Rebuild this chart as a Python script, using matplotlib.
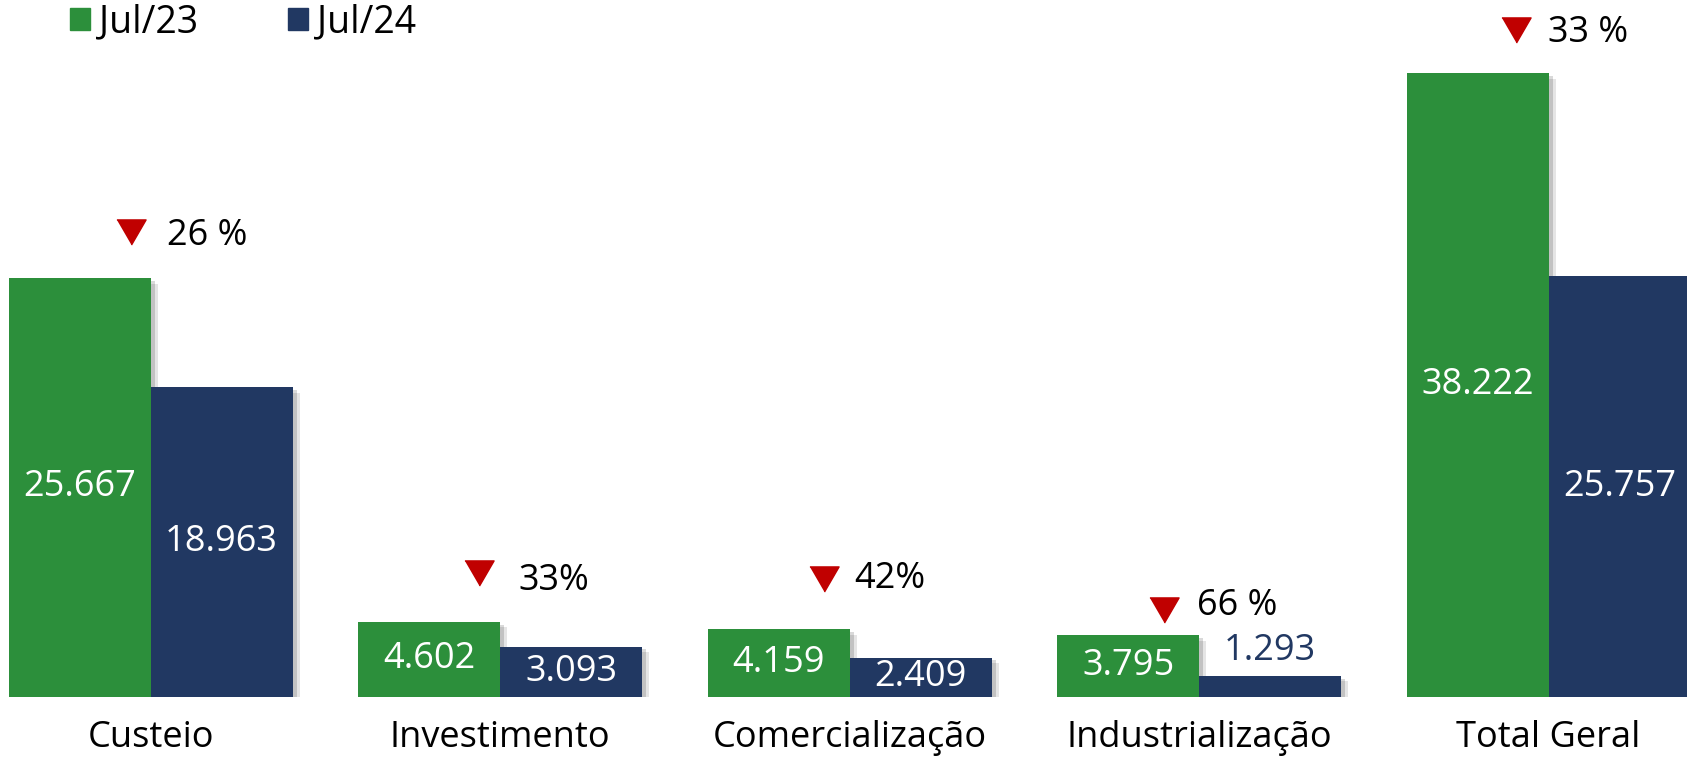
import matplotlib
matplotlib.use("Agg")
import matplotlib.pyplot as plt
import matplotlib.patheffects as pe
from matplotlib.patches import Patch
from matplotlib.transforms import offset_copy, blended_transform_factory
import numpy as np

# ---- Data -----------------------------------------------------------------
categories = ["Custeio", "Investimento", "Comercialização", "Industrialização", "Total Geral"]
jul23 = [25667, 4602, 4159, 3795, 38222]
jul24 = [18963, 3093, 2409, 1293, 25757]
value_labels_23 = ["25.667", "4.602", "4.159", "3.795", "38.222"]
value_labels_24 = ["18.963", "3.093", "2.409", "1.293", "25.757"]
drop_labels = ["26 %", "33%", "42%", "66 %", "33 %"]

# annotation placement (pixels, relative to group centre / green bar top)
tri_dx = [-20, -21, -26, -35, -33]
tri_dy = [46, 49, 50, 25, 43]
txt_dx = [16, 18, 5, -2, -1]
txt_dy = [46, 45, 54, 33, 44]

GREEN = "#2C8F3B"
NAVY = "#213862"
RED = "#C00000"
FONT = "Open Sans"

W, H, DPI = 1687, 759, 100
BASE_PX = 62          # baseline distance from bottom of figure
UNITS_PER_PX = 61.25  # value units per pixel

fig = plt.figure(figsize=(W / DPI, H / DPI), dpi=DPI)
ax = fig.add_axes([0, BASE_PX / H, 1, 1 - BASE_PX / H])
ax.set_axis_off()

x = np.arange(len(categories))
w = 142 / 349.5
shadow = [pe.SimplePatchShadow(offset=(5, -4), shadow_rgbFace="#000000", alpha=0.10),
          pe.SimplePatchShadow(offset=(3, -2), shadow_rgbFace="#000000", alpha=0.15),
          pe.Normal()]

b23 = ax.bar(x - w / 2, jul23, w, color=GREEN, zorder=2)
b24 = ax.bar(x + w / 2, jul24, w, color=NAVY, zorder=3)
for r in list(b23) + list(b24):
    r.set_path_effects(shadow)

ax.set_xlim((0 - 150.6) / 349.5, (W - 150.6) / 349.5)
ax.set_ylim(0, (H - BASE_PX) * UNITS_PER_PX)

# value labels
for i in range(len(categories)):
    ax.text(x[i] - w / 2, jul23[i] / 2, value_labels_23[i], ha="center", va="center",
            color="white", fontsize=26, family=FONT, zorder=5)
    if jul24[i] < 1500:
        ax.text(x[i] + w / 2, jul24[i] + 25 * UNITS_PER_PX, value_labels_24[i], ha="center",
                va="center", color=NAVY, fontsize=26, family=FONT, zorder=5)
    else:
        ax.text(x[i] + w / 2, jul24[i] / 2, value_labels_24[i], ha="center", va="center",
                color="white", fontsize=26, family=FONT, zorder=5)

# drop markers + percentages
tri = [(-0.58, 0.5), (0.58, 0.5), (0, -0.5)]
for i in range(len(categories)):
    tr = offset_copy(ax.transData, fig=fig, x=tri_dx[i], y=tri_dy[i], units="dots")
    ax.plot([x[i]], [jul23[i]], marker=tri, markersize=21, color=RED, linestyle="none",
            transform=tr, clip_on=False, zorder=6)
    ax.annotate(drop_labels[i], (x[i], jul23[i]), xytext=(txt_dx[i], txt_dy[i] - 13),
                textcoords="offset pixels", ha="left", va="baseline",
                fontsize=26, family=FONT, color="black", annotation_clip=False)

# category labels
trans = blended_transform_factory(ax.transData, ax.transAxes)
for i, c in enumerate(categories):
    ax.text(x[i], -50 / (H - BASE_PX), c, transform=trans, ha="center", va="baseline",
            fontsize=26, family=FONT, color="black", clip_on=False)

handles = [Patch(color=GREEN, label="Jul/23"), Patch(color=NAVY, label="Jul/24")]
fig.legend(handles=handles, loc="center left", bbox_to_anchor=(70 / W, 1 - 22 / H),
           ncol=2, frameon=False, prop={"family": FONT, "size": 27},
           handlelength=0.53, handleheight=0.53, handletextpad=0.24,
           columnspacing=2.4, borderpad=0, borderaxespad=0)

fig.savefig("out.png", dpi=DPI, facecolor="white")
